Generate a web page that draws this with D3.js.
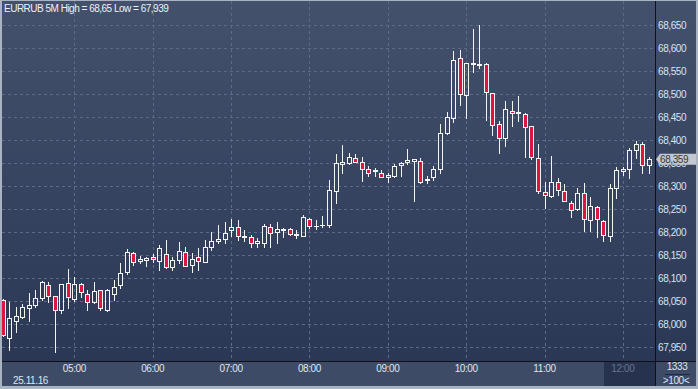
<!DOCTYPE html>
<html lang="en">
<head>
<meta charset="UTF-8">
<title>EURRUB 5M</title>
<script src="https://d3js.org/d3.v7.min.js"></script>
<style>
  body { margin: 0; background: #2e3b58; }
  svg { display: block; font-family: "Liberation Sans", Arial, sans-serif; }
  .lbl { font-size: 10px; letter-spacing: -0.4px; }
</style>
</head>
<body>
<svg width="698" height="389"></svg>
<script>
// 5 minute candles starting 04:05, 25.11.16
var startTime = new Date(2016, 10, 25, 4, 5);
var open = [68.052,67.970,68.008,68.016,68.035,68.041,68.057,68.085,68.061,68.032,
  68.089,68.056,68.088,68.065,68.049,68.074,68.031,68.066,68.085,68.114,
  68.154,68.137,68.139,68.146,68.138,68.152,68.125,68.140,68.157,68.128,
  68.146,68.136,68.169,68.182,68.185,68.204,68.212,68.190,68.189,68.176,
  68.176,68.212,68.200,68.205,68.207,68.195,68.193,68.230,68.213,68.215,
  68.216,68.290,68.348,68.351,68.361,68.353,68.337,68.333,68.330,68.320,
  68.323,68.346,68.352,68.356,68.355,68.314,68.321,68.337,68.415,68.448,
  68.578,68.498,68.565,68.563,68.565,68.502,68.435,68.404,68.464,68.460,
  68.458,68.430,68.362,68.288,68.279,68.310,68.290,68.264,68.250,68.285,
  68.227,68.256,68.225,68.193,68.296,68.333,68.337,68.380,68.392,68.346];
var high = [68.054,68.048,68.037,68.045,68.069,68.075,68.094,68.093,68.062,68.088,
  68.120,68.102,68.089,68.075,68.091,68.075,68.076,68.096,68.133,68.163,
  68.157,68.149,68.146,68.152,68.172,68.183,68.147,68.178,68.169,68.154,
  68.165,68.183,68.201,68.216,68.222,68.230,68.227,68.206,68.194,68.188,
  68.217,68.217,68.222,68.210,68.209,68.206,68.238,68.231,68.227,68.235,
  68.314,68.370,68.390,68.372,68.370,68.364,68.345,68.339,68.335,68.328,
  68.349,68.352,68.381,68.359,68.361,68.322,68.344,68.435,68.461,68.594,
  68.596,68.568,68.643,68.650,68.567,68.503,68.443,68.485,68.485,68.496,
  68.459,68.431,68.393,68.310,68.366,68.317,68.304,68.268,68.296,68.307,
  68.277,68.257,68.226,68.304,68.343,68.343,68.384,68.398,68.397,68.364];
var low = [67.975,67.945,67.983,68.014,68.008,68.038,68.053,68.049,67.939,68.024,
  68.035,68.050,68.060,68.031,68.046,68.031,68.030,68.053,68.080,68.109,
  68.130,68.133,68.127,68.135,68.118,68.122,68.118,68.133,68.127,68.114,
  68.118,68.135,68.162,68.176,68.176,68.192,68.183,68.181,68.169,68.169,
  68.169,68.169,68.177,68.190,68.194,68.187,68.193,68.210,68.207,68.212,
  68.212,68.264,68.330,68.349,68.352,68.312,68.323,68.323,68.321,68.310,
  68.321,68.323,68.348,68.267,68.308,68.308,68.314,68.330,68.413,68.440,
  68.477,68.449,68.548,68.558,68.444,68.412,68.372,68.388,68.430,68.442,
  68.364,68.359,68.286,68.253,68.277,68.281,68.268,68.234,68.248,68.203,
  68.203,68.190,68.180,68.181,68.274,68.325,68.317,68.361,68.330,68.330];
var close = [67.976,68.013,68.017,68.037,68.041,68.058,68.091,68.061,68.031,68.087,
  68.059,68.087,68.071,68.048,68.073,68.035,68.074,68.082,68.111,68.157,
  68.135,68.141,68.145,68.141,68.165,68.125,68.139,68.159,68.127,68.141,
  68.138,68.169,68.180,68.185,68.198,68.211,68.193,68.192,68.176,68.181,
  68.214,68.198,68.207,68.207,68.196,68.196,68.233,68.214,68.214,68.216,
  68.293,68.350,68.352,68.363,68.353,68.337,68.330,68.335,68.321,68.325,
  68.344,68.350,68.357,68.359,68.310,68.315,68.337,68.415,68.450,68.575,
  68.500,68.567,68.567,68.565,68.504,68.433,68.404,68.467,68.459,68.462,
  68.428,68.363,68.290,68.281,68.309,68.292,68.268,68.249,68.285,68.229,
  68.258,68.228,68.194,68.296,68.335,68.337,68.380,68.391,68.346,68.359];

var yTicks = [67.95,68.00,68.05,68.10,68.15,68.20,68.25,68.30,68.35,68.40,68.45,68.50,68.55,68.60,68.65];
var xTickHours = [5,6,7,8,9,10,11,12];
var lastPrice = 68.359;
var titleText = "EURRUB 5M High = 68,65 Low = 67,939";

var data = open.map(function(o, i) {
  return { t: d3.timeMinute.offset(startTime, i * 5), o: o, h: high[i], l: low[i], c: close[i] };
});

var W = 698, H = 389;
var plot = { left: 2, right: 655, top: 1, bottom: 361 };

var svg = d3.select('svg');

var x = d3.scaleTime()
  .domain([startTime, data[data.length - 1].t])
  .range([2.5, 649]);
var y = d3.scaleLinear()
  .domain([67.95, 68.65])
  .range([347.3, 25.3]);

var fmt = function(v) { return d3.format('.3f')(v).replace('.', ','); };

// background gradient
var defs = svg.append('defs');
var grad = defs.append('linearGradient').attr('id', 'bg')
  .attr('x1', 0).attr('y1', 0).attr('x2', 0).attr('y2', 1);
grad.append('stop').attr('offset', '0%').attr('stop-color', '#43516d');
grad.append('stop').attr('offset', '100%').attr('stop-color', '#2a3855');
defs.append('clipPath').attr('id', 'clip')
  .append('rect').attr('x', plot.left).attr('y', plot.top)
  .attr('width', plot.right - plot.left).attr('height', plot.bottom - plot.top);

svg.append('rect').attr('width', W).attr('height', H).attr('fill', '#aab3c1');
svg.append('rect').attr('x', 2).attr('y', 1).attr('width', W - 4).attr('height', plot.bottom - 1)
  .attr('fill', 'url(#bg)');
// bottom axis strip
svg.append('rect').attr('x', 2).attr('y', plot.bottom).attr('width', W - 4).attr('height', 25)
  .attr('fill', '#3d4b67');

// grid
var grid = svg.append('g').attr('stroke', '#5b6a88').attr('stroke-dasharray', '3,3');
grid.selectAll('.hg').data(yTicks).enter().append('line')
  .attr('x1', plot.left).attr('x2', plot.right - 2)
  .attr('y1', d => Math.round(y(d)) + 0.5).attr('y2', d => Math.round(y(d)) + 0.5);
var hourTimes = xTickHours.map(h => new Date(2016, 10, 25, h, 0));
grid.selectAll('.vg').data(hourTimes).enter().append('line')
  .attr('y1', plot.top).attr('y2', plot.bottom)
  .attr('x1', d => Math.round(x(d)) + 0.5).attr('x2', d => Math.round(x(d)) + 0.5);

// candles
var cg = svg.append('g').attr('clip-path', 'url(#clip)');
var stroke = '#f4f4f4';
data.forEach(function(d) {
  var cx = Math.round(x(d.t));
  var top = Math.round(y(Math.max(d.o, d.c)));
  var bot = Math.round(y(Math.min(d.o, d.c)));
  var hi = Math.round(y(d.h)), lo = Math.round(y(d.l));
  var g = cg.append('g');
  if (bot - top < 1) {
    g.append('line').attr('x1', cx + 0.5).attr('x2', cx + 0.5)
      .attr('y1', hi).attr('y2', lo + 1).attr('stroke', stroke);
    g.append('line').attr('x1', cx - 2).attr('x2', cx + 3)
      .attr('y1', top + 0.5).attr('y2', top + 0.5).attr('stroke', stroke);
    return;
  }
  if (hi < top) g.append('line').attr('x1', cx + 0.5).attr('x2', cx + 0.5)
    .attr('y1', hi).attr('y2', top).attr('stroke', stroke);
  if (lo > bot) g.append('line').attr('x1', cx + 0.5).attr('x2', cx + 0.5)
    .attr('y1', bot + 1).attr('y2', lo + 1).attr('stroke', stroke);
  g.append('rect')
    .attr('x', cx - 1.5).attr('y', top + 0.5)
    .attr('width', 4).attr('height', bot - top)
    .attr('fill', d.c < d.o ? '#dd1540' : 'none')
    .attr('stroke', stroke);
});

// frame lines
svg.append('line').attr('x1', plot.right + 0.5).attr('x2', plot.right + 0.5)
  .attr('y1', 1).attr('y2', 386).attr('stroke', '#0c111c');
svg.append('line').attr('x1', 2).attr('x2', W - 2)
  .attr('y1', plot.bottom + 0.5).attr('y2', plot.bottom + 0.5).attr('stroke', '#0c111c');

// title
svg.append('text').attr('class', 'lbl').attr('x', 4).attr('y', 12)
  .attr('fill', '#eef1f5').style('letter-spacing', '-0.5px').text(titleText);

// y labels
svg.selectAll('.yl').data(yTicks).enter().append('text')
  .attr('class', 'lbl').attr('x', 658).attr('y', d => y(d) + 3.6)
  .attr('fill', '#d6e3f5').text(fmt);

// last price marker
var ly = y(lastPrice);
svg.append('path')
  .attr('d', `M656,${ly} L660,${ly - 5.5} L696,${ly - 5.5} L696,${ly + 5.5} L660,${ly + 5.5} Z`)
  .attr('fill', '#c4c8ce');
svg.append('text').attr('class', 'lbl').attr('x', 660).attr('y', ly + 3.6)
  .attr('fill', '#34363d').text(fmt(lastPrice));

// x axis
var lastHour = hourTimes[hourTimes.length - 1];
svg.append('rect').attr('x', Math.round(x(lastHour)) - 19).attr('y', plot.bottom + 1)
  .attr('width', plot.right - Math.round(x(lastHour)) + 19).attr('height', 24)
  .attr('fill', '#27334e');
svg.selectAll('.xl').data(hourTimes).enter().append('text')
  .attr('class', 'lbl').attr('x', d => x(d)).attr('y', 372)
  .attr('text-anchor', 'middle')
  .attr('fill', (d, i) => i === hourTimes.length - 1 ? '#66738c' : '#dfe6f0')
  .text(d3.timeFormat('%H:%M'));
svg.append('text').attr('class', 'lbl').attr('x', 13).attr('y', 384)
  .attr('fill', '#dfe6f0').text(d3.timeFormat('%d.%m.%y')(startTime));

// bottom-right box
svg.append('text').attr('class', 'lbl').attr('x', 677).attr('y', 370)
  .attr('text-anchor', 'middle').attr('fill', '#dfe6f0').text('1333');
svg.append('line').attr('x1', 665).attr('x2', 690).attr('y1', 374.5).attr('y2', 374.5)
  .attr('stroke', '#1e2940');
svg.append('text').attr('class', 'lbl').attr('x', 676).attr('y', 384)
  .attr('text-anchor', 'middle').attr('fill', '#dfe6f0').text('>100<');
</script>
</body>
</html>
